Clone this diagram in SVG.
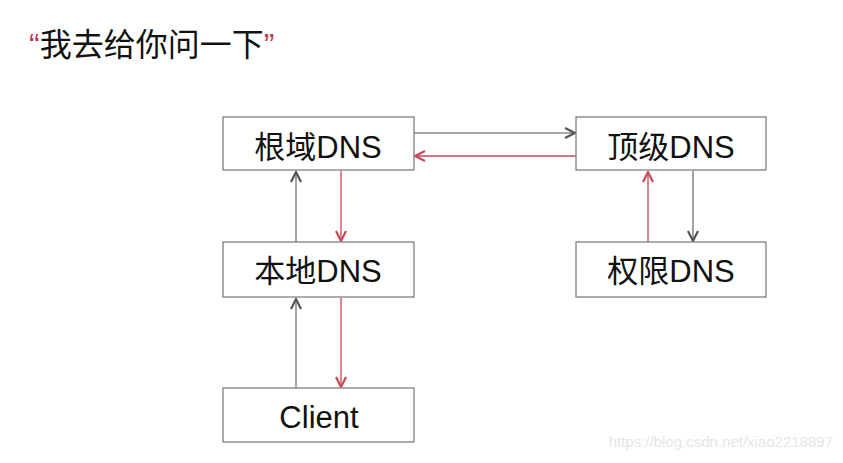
<svg xmlns="http://www.w3.org/2000/svg" width="843" height="463" viewBox="0 0 843 463">
<defs>
<style>
.box{fill:#fff;stroke:#7f7f7f;stroke-width:1.3}
.lbl{font-family:"Liberation Sans","Noto Sans CJK SC",sans-serif;font-size:31px;fill:#111;text-anchor:middle}
.g{stroke:#8a8a8a;stroke-width:1.6;fill:none}
.r{stroke:#c9485b;stroke-width:1.3;fill:none}
</style>
<marker id="ag" viewBox="0 0 12 12" refX="11" refY="6" markerWidth="12" markerHeight="12" markerUnits="userSpaceOnUse" orient="auto">
<path d="M1,1 L11,6 L1,11" fill="none" stroke="#555" stroke-width="2.2"/>
</marker>
<marker id="ar" viewBox="0 0 12 12" refX="11" refY="6" markerWidth="12" markerHeight="12" markerUnits="userSpaceOnUse" orient="auto">
<path d="M1,1 L11,6 L1,11" fill="none" stroke="#c9485b" stroke-width="2.2"/>
</marker>
</defs>
<rect width="843" height="463" fill="#fff"/>
<text x="29" y="56" font-family="Liberation Sans,Noto Sans CJK SC,sans-serif" font-size="32" fill="#111"><tspan fill="#c0394b">“</tspan>我去给你问一下<tspan fill="#c0394b">”</tspan></text>
<g id="connectors">
<line class="g" x1="414" y1="133" x2="575" y2="133" marker-end="url(#ag)"/>
<line class="r" x1="576" y1="156" x2="415" y2="156" marker-end="url(#ar)"/>
<line class="r" x1="341" y1="171" x2="341" y2="241" marker-end="url(#ar)"/>
<line class="g" x1="296" y1="242" x2="296" y2="172" marker-end="url(#ag)"/>
<line class="r" x1="341" y1="298" x2="341" y2="387" marker-end="url(#ar)"/>
<line class="g" x1="296" y1="388" x2="296" y2="299" marker-end="url(#ag)"/>
<line class="g" x1="693" y1="171" x2="693" y2="241" marker-end="url(#ag)"/>
<line class="r" x1="648" y1="242" x2="648" y2="172" marker-end="url(#ar)"/>
</g>
<g id="root"><rect class="box" x="223" y="117" width="191" height="53"/><text class="lbl" x="318" y="158">根域DNS</text></g>
<g id="tld"><rect class="box" x="576" y="117" width="190" height="53"/><text class="lbl" x="671" y="158">顶级DNS</text></g>
<g id="local"><rect class="box" x="223" y="242" width="191" height="55"/><text class="lbl" x="318" y="282">本地DNS</text></g>
<g id="auth"><rect class="box" x="576" y="242" width="190" height="55"/><text class="lbl" x="671" y="282">权限DNS</text></g>
<g id="client"><rect class="box" x="223" y="388" width="191" height="54"/><text class="lbl" x="319" y="428">Client</text></g>
<text x="833" y="447" text-anchor="end" font-family="Liberation Sans,sans-serif" font-size="15" fill="#e6e6e6">https://blog.csdn.net/xiao2218897</text>
</svg>
